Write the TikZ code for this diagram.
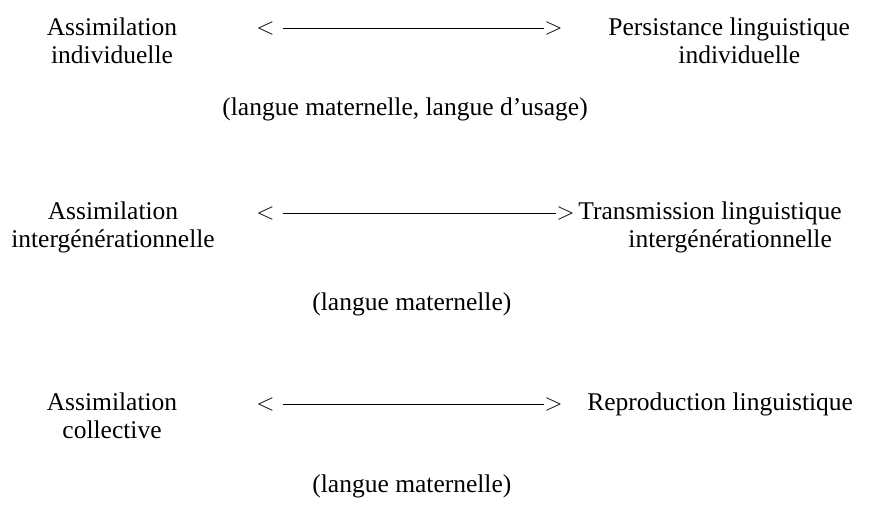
\documentclass[tikz,border=0pt]{standalone}
\usepackage{fontspec}
\setmainfont{Liberation Serif}
\usetikzlibrary{positioning}

\begin{document}
\begin{tikzpicture}[x=0.5pt,y=-0.5pt,inner sep=0pt,
  every node/.style={font=\fontsize{12.75}{14}\selectfont},
  side/.style={align=center,anchor=base},
  goal/.style={align=left,anchor=base west},
  tip/.style={anchor=base west},
  langue/.style={anchor=base west}]
  \useasboundingbox (0,0) rectangle (876,507);
  % individuelle
  \node[side] (a1) at (112,64) {Assimilation\\individuelle};
  \node[tip] (l1) at (256,35) {$<$};
  \node[tip] (g1) at (544,35) {$>$};
  \node[goal] (r1) at (608,64) {Persistance linguistique\\\hspace*{35pt}individuelle};
  \node[langue] (m1) at (222,116) {(langue maternelle, langue d’usage)};
  % intergenerationnelle
  \node[side] (a2) at (113,248) {Assimilation\\intergénérationnelle};
  \node[tip] (l2) at (256,220) {$<$};
  \node[tip] (g2) at (556,220) {$>$};
  \node[goal] (r2) at (578,248) {Transmission linguistique\\\hspace*{25pt}intergénérationnelle};
  \node[langue] (m2) at (312,310) {(langue maternelle)};
  % collective
  \node[side] (a3) at (112,438) {Assimilation\\collective};
  \node[tip] (l3) at (256,410) {$<$};
  \node[tip] (g3) at (544,410) {$>$};
  \node[goal] (r3) at (587,410) {Reproduction linguistique};
  \node[langue] (m3) at (312,492) {(langue maternelle)};
  \path[line width=0.5pt,shorten <=4pt]
  (l1) edge (g1)
  (l2) edge (g2)
  (l3) edge (g3)
  ;
\end{tikzpicture}
\end{document}
